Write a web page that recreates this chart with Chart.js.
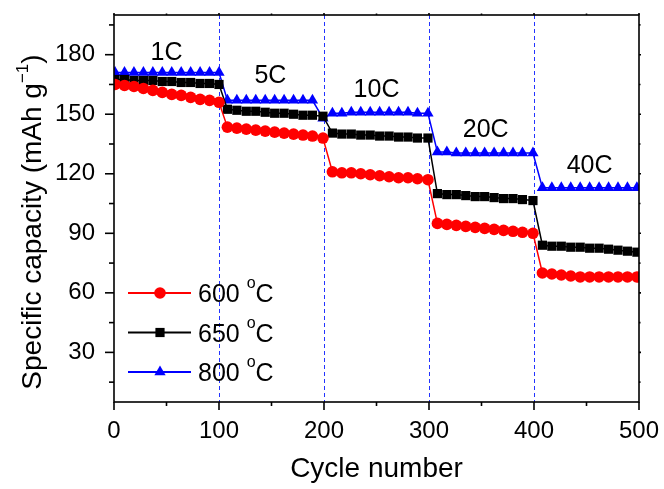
<!DOCTYPE html>
<html>
<head>
<meta charset="utf-8">
<script src="https://cdn.jsdelivr.net/npm/chart.js@4"></script>
<style>
  html, body { margin: 0; padding: 0; background: #fff; }
  #wrap { width: 664px; height: 489px; }
</style>
</head>
<body>
<div id="wrap"><canvas id="chart" width="664" height="489"></canvas></div>
<script>
/* ============================================
   DATA
   ============================================ */

// cycle numbers of the plotted points (five rate steps of 100 cycles)
const cycles = [
    1, 10, 19, 28, 37, 46, 55, 64, 73, 82, 91, 100,
    108, 117, 126, 135, 144, 153, 162, 171, 180, 189, 199,
    208, 217, 226, 235, 244, 253, 262, 271, 280, 289, 299,
    308, 317, 326, 335, 344, 353, 362, 371, 380, 389, 399,
    408, 417, 426, 435, 444, 453, 462, 471, 480, 489, 498
];

const cap600 = [
    165, 164.5, 164, 163, 162, 161, 160, 159.5, 158.5, 157.5, 157, 156,
    143.5, 143, 142.5, 142, 141.5, 141, 140.5, 140, 139.5, 139, 138,
    121, 120.5, 120.5, 120, 119.5, 119, 118.5, 118, 118, 117.5, 117,
    95, 94.5, 94, 93.5, 93, 92.5, 92, 91.5, 91, 90.5, 90,
    70, 69.5, 69, 68.5, 68, 68, 68, 68, 68, 68, 68
];

const cap650 = [
    167.5, 167.5, 167, 167, 167, 166.5, 166.5, 166, 166, 165.5, 165.5, 165,
    152.5, 152, 151.5, 151.5, 151, 150.5, 150.5, 150, 149.5, 149.5, 149,
    140.5, 140, 140, 139.5, 139.5, 139, 139, 138.5, 138.5, 138, 138,
    110, 109.5, 109.5, 109, 108.5, 108.5, 108, 107.5, 107.5, 107, 106.5,
    84, 83.5, 83.5, 83, 83, 82.5, 82.5, 82, 81.5, 81, 80.5
];

const cap800 = [
    171, 171, 171, 171, 171, 171, 171, 171, 171, 171, 171, 171,
    157, 157, 157, 157, 157, 157, 157, 157, 157, 157, 148,
    150.5, 150.5, 151, 151, 151, 151, 151, 151, 151, 150.5, 150.5,
    131, 131, 130.5, 130.5, 130.5, 130.5, 130.5, 130.5, 130.5, 130.5, 130.5,
    113, 113, 113, 113, 113, 113, 113, 113, 113, 113, 113
];

const seriesNames = ['600', '650', '800'];

// rate steps, their boundaries and where each label sits (cycle, capacity)
const rates = ['1C', '5C', '10C', '20C', '40C'];
const rateEdges = [100, 200, 300, 400];
const rateLabelCycle = [50, 149, 250, 354, 453];
const rateLabelCap = [181, 169, 162, 142, 124];

// axis ticks
const xTickLabels = [0, 100, 200, 300, 400, 500];
const xMinorTicks = [50, 150, 250, 350, 450];
const yTickLabels = [30, 60, 90, 120, 150, 180];
const yMinorTicks = [15, 45, 75, 105, 135, 165, 195];

/* ============================================
   HELPERS
   ============================================ */
const FONT = "'Liberation Sans', Arial, sans-serif";

const toPoints = vals => vals.map((v, i) => ({ x: cycles[i], y: v }));

// draw a run of text pieces, some of them superscript
function drawParts(ctx, parts, x, y, align) {
    let total = 0;
    parts.forEach(p => {
        ctx.font = p.size + 'px ' + FONT;
        p.w = ctx.measureText(p.text).width;
        total += p.w;
    });
    let cx = align === 'center' ? x - total / 2 : x;
    parts.forEach(p => {
        ctx.font = p.size + 'px ' + FONT;
        ctx.fillText(p.text, cx, y + (p.dy || 0));
        cx += p.w;
    });
}

// keep the plot box where the layout padding puts it
function noLabelPadding(s) {
    s.paddingTop = 0;
    s.paddingBottom = 0;
    s.paddingLeft = 0;
    s.paddingRight = 0;
}

/* ============================================
   FRAME, TICKS, LEGEND, TITLES (plugin)
   ============================================ */
const decorations = {
    id: 'decorations',
    beforeDatasetsDraw(chart) {
        const { ctx, chartArea: a, scales: { x } } = chart;
        ctx.save();
        ctx.strokeStyle = '#2233ff';
        ctx.lineWidth = 1;
        ctx.setLineDash([4, 3]);
        rateEdges.forEach(c => {
            const px = Math.round(x.getPixelForValue(c)) + 0.5;
            ctx.beginPath();
            ctx.moveTo(px, a.top);
            ctx.lineTo(px, a.bottom);
            ctx.stroke();
        });
        ctx.restore();
    },
    afterDatasetsDraw(chart) {
        const { ctx, chartArea: a, scales: { x, y } } = chart;
        ctx.save();

        // box
        ctx.strokeStyle = '#000';
        ctx.lineWidth = 1.6;
        ctx.strokeRect(a.left, a.top, a.right - a.left, a.bottom - a.top);

        // outward ticks: long on the left/bottom, tiny on the top/right
        const tick = (x1, y1, x2, y2) => {
            ctx.beginPath(); ctx.moveTo(x1, y1); ctx.lineTo(x2, y2); ctx.stroke();
        };
        xTickLabels.forEach(v => {
            const px = x.getPixelForValue(v);
            tick(px, a.bottom, px, a.bottom + 8);
            tick(px, a.top, px, a.top - 2);
        });
        xMinorTicks.forEach(v => {
            const px = x.getPixelForValue(v);
            tick(px, a.bottom, px, a.bottom + 4);
            tick(px, a.top, px, a.top - 1.5);
        });
        yTickLabels.forEach(v => {
            const py = y.getPixelForValue(v);
            tick(a.left, py, a.left - 9, py);
            tick(a.right, py, a.right + 2, py);
        });
        yMinorTicks.forEach(v => {
            const py = y.getPixelForValue(v);
            tick(a.left, py, a.left - 5, py);
            tick(a.right, py, a.right + 1.5, py);
        });

        ctx.fillStyle = '#000';

        // rate labels
        ctx.textAlign = 'center';
        ctx.textBaseline = 'middle';
        ctx.font = '25px ' + FONT;
        rates.forEach((r, i) => {
            ctx.fillText(r, x.getPixelForValue(rateLabelCycle[i]), y.getPixelForValue(rateLabelCap[i]));
        });

        // legend: line with the marker in the middle, then the name
        ctx.textAlign = 'left';
        ctx.textBaseline = 'alphabetic';
        chart.data.datasets.forEach((ds, i) => {
            const ly = 293 + i * 39.5;
            ctx.strokeStyle = ds.borderColor;
            ctx.lineWidth = 2;
            tick(128, ly, 191, ly);
            ctx.fillStyle = ds.pointBackgroundColor;
            Chart.helpers.drawPoint(ctx, {
                pointStyle: ds.pointStyle, radius: ds.pointRadius, rotation: 0, borderWidth: 0
            }, 160, ly);
            ctx.fillStyle = '#000';
            drawParts(ctx, [
                { text: seriesNames[i] + ' ', size: 25 },
                { text: 'o', size: 16, dy: -14 },
                { text: 'C', size: 25 }
            ], 198, ly + 9, 'left');
        });

        // axis titles
        ctx.textBaseline = 'alphabetic';
        drawParts(ctx, [{ text: 'Cycle number', size: 28 }], (a.left + a.right) / 2, 477, 'center');

        ctx.translate(41, 222);
        ctx.rotate(-Math.PI / 2);
        drawParts(ctx, [
            { text: 'Specific capacity (mAh g', size: 28 },
            { text: '\u22121', size: 17, dy: -13 },
            { text: ')', size: 28 }
        ], 0, 0, 'center');

        ctx.restore();
    }
};

/* ============================================
   CHART
   ============================================ */
const commonLine = { borderWidth: 1.5, pointBorderWidth: 0, tension: 0 };

new Chart(document.getElementById('chart'), {
    type: 'line',
    data: {
        datasets: [
            Object.assign({
                label: '600 °C', data: toPoints(cap600),
                borderColor: '#ff0000', pointBackgroundColor: '#ff0000',
                pointStyle: 'circle', pointRadius: 5.8
            }, commonLine),
            Object.assign({
                label: '650 °C', data: toPoints(cap650),
                borderColor: '#000000', pointBackgroundColor: '#000000',
                pointStyle: 'rect', pointRadius: 6.5
            }, commonLine),
            Object.assign({
                label: '800 °C', data: toPoints(cap800),
                borderColor: '#0000ff', pointBackgroundColor: '#0000ff',
                pointStyle: 'triangle', pointRadius: 6.5
            }, commonLine)
        ]
    },
    options: {
        responsive: false,
        animation: false,
        events: [],
        layout: { padding: { top: 15, right: 25, left: 0, bottom: 0 } },
        plugins: { legend: { display: false }, tooltip: { enabled: false } },
        scales: {
            x: {
                type: 'linear', min: 0, max: 500,
                grid: { display: false, drawTicks: false },
                border: { display: false },
                afterBuildTicks: s => { s.ticks = xTickLabels.map(v => ({ value: v })); },
                afterFit: s => { s.height = 87; noLabelPadding(s); },
                ticks: { color: '#000', padding: 15, maxRotation: 0, font: { family: FONT, size: 24 } }
            },
            y: {
                type: 'linear', min: 5, max: 200,
                grid: { display: false, drawTicks: false },
                border: { display: false },
                afterBuildTicks: s => { s.ticks = yTickLabels.map(v => ({ value: v })); },
                afterFit: s => { s.width = 114; noLabelPadding(s); },
                ticks: { color: '#000', padding: 19, font: { family: FONT, size: 24 } }
            }
        }
    },
    plugins: [decorations]
});
</script>
</body>
</html>
